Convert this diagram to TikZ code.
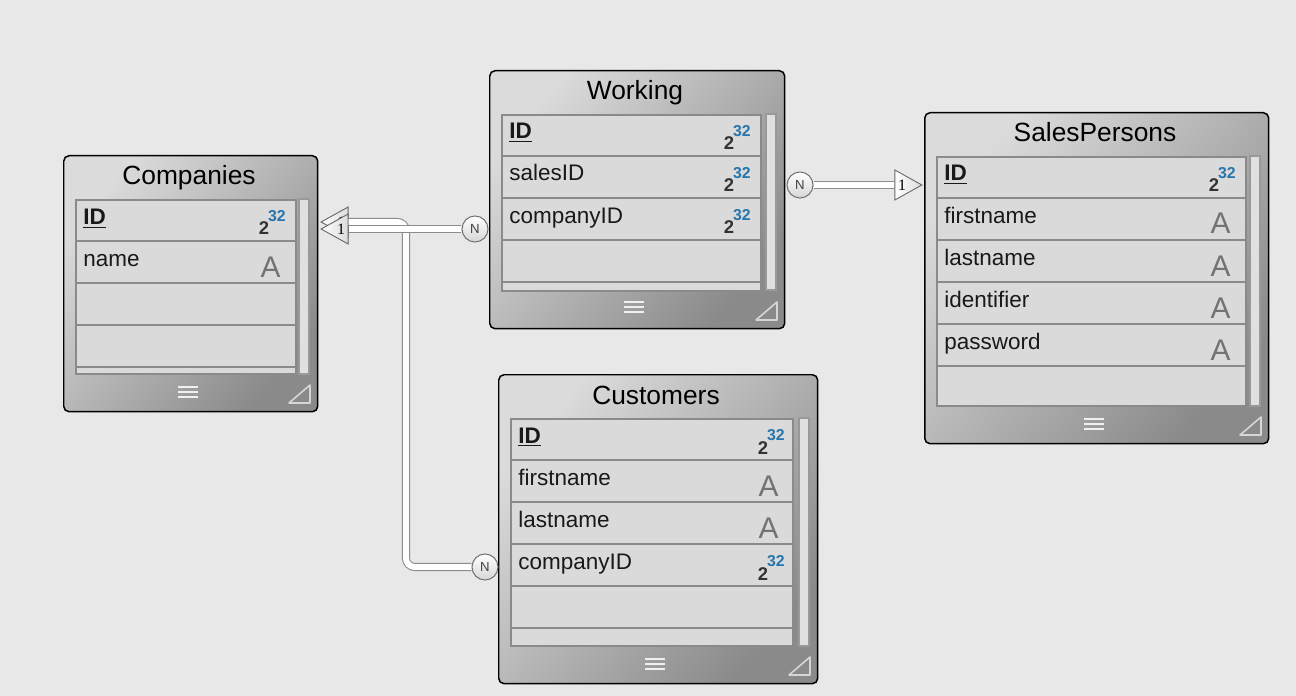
\documentclass[tikz,border=0pt]{standalone}
\usepackage{fontspec}
\setmainfont{Liberation Sans}
\newfontfamily\serifone{Liberation Serif}
\usetikzlibrary{shapes.geometric}

\definecolor{canvas}{RGB}{232,232,232}
\definecolor{rowfill}{RGB}{218,218,218}
\definecolor{rowline}{RGB}{138,138,138}
\definecolor{intblue}{RGB}{38,118,172}

\newcommand\intsym{{\fontsize{10.5}{11}\selectfont\bfseries\color{black!80}2}\kern-0.6pt\raisebox{7.6pt}{\fontsize{9}{9}\selectfont\bfseries\color{intblue}32}}

\tikzset{
  entity/.style={draw=black, line width=0.85pt, rounded corners=3pt, anchor=north west, inner sep=0pt,
    top color=black!14, bottom color=black!46, shading angle=50},
  entitytitle/.style={anchor=base, inner sep=0pt, font=\fontsize{15}{18}\selectfont},
  fields/.style={draw=rowline, line width=1.1pt, fill=rowfill, anchor=north west, inner sep=0pt},
  rowsep/.style={draw=rowline, line width=1.1pt},
  scrollbar/.style={fill=black!12, draw=black!40, line width=0.8pt},
  fieldname/.style={anchor=base west, inner sep=0pt, text=black!90, font=\fontsize{12.8}{15}\selectfont},
  keyname/.style={fieldname, font=\fontsize{12.8}{15}\selectfont\bfseries},
  inttype/.style={anchor=base east, inner sep=0pt},
  texttype/.style={anchor=base east, inner sep=0pt, text=black!55, font=\fontsize{17}{18}\selectfont},
  grip/.style={draw=black!6, line width=0.6pt},
  resizer/.style={draw=black!16, line width=0.9pt, line join=round},
  manyend/.style={circle, minimum size=0.52cm, inner sep=0pt, draw=black!55, line width=0.6pt,
    top color=white, bottom color=black!16, text=black!75, font=\fontsize{7.5}{8}\selectfont},
  oneend/.style={shape=isosceles triangle, isosceles triangle stretches, minimum width=0.6cm,
    minimum height=0.54cm, inner sep=0pt, anchor=apex, draw=black!60, line width=0.5pt,
    left color=white, right color=black!14, font=\serifone\fontsize{9}{9}\selectfont},
  relation/.style={draw=black!45, line width=0.6pt, double=white, double distance=3.4pt}
}

\begin{document}
\begin{tikzpicture}[x=0.02cm, y=-0.02cm]
  \useasboundingbox (0,0) rectangle (1296,696);
  \fill[canvas] (0,0) rectangle (1296,696);

  % Companies
  \node[entity, minimum width=5.08cm, minimum height=5.12cm] (companies) at (63,155) {};
  \node[entitytitle] (companies-title) at (189,185) {Companies};
  \node[fields, minimum width=4.4cm, minimum height=3.48cm] (companies-fields) at (75,199) {};
  \foreach \y in {241,283,325,367}
    \draw[rowsep] (75,\y) -- (295,\y);
  \draw[scrollbar] (299,199) rectangle (309,374);
  \node[keyname] (companies-id) at (83,225) {\underline{ID}};
  \node[fieldname] (companies-name) at (83,266) {name};
  \node[inttype] (companies-id-type) at (286,235) {\intsym};
  \node[texttype] (companies-name-type) at (281,277) {A};
  \foreach \d in {-5,0,5}
    \draw[grip] (178,392+\d) -- (198,392+\d);
  \draw[resizer] (289,403) -- (310,385) -- (310,403) -- cycle;

  % Working
  \node[entity, minimum width=5.9cm, minimum height=5.16cm] (working) at (489,70) {};
  \node[entitytitle] (working-title) at (635,100) {Working};
  \node[fields, minimum width=5.18cm, minimum height=3.52cm] (working-fields) at (501,114) {};
  \foreach \y in {156,198,240,282}
    \draw[rowsep] (501,\y) -- (760,\y);
  \draw[scrollbar] (766,114) rectangle (776,290);
  \node[keyname] (working-id) at (509,139) {\underline{ID}};
  \node[fieldname] (working-salesid) at (509,181) {salesID};
  \node[fieldname] (working-companyid) at (509,223) {companyID};
  \node[inttype] (working-id-type) at (751,150) {\intsym};
  \node[inttype] (working-salesid-type) at (751,192) {\intsym};
  \node[inttype] (working-companyid-type) at (751,234) {\intsym};
  \foreach \d in {-5,0,5}
    \draw[grip] (624,307+\d) -- (644,307+\d);
  \draw[resizer] (756,320) -- (777,302) -- (777,320) -- cycle;

  % SalesPersons
  \node[entity, minimum width=6.88cm, minimum height=6.62cm] (salespersons) at (924,112) {};
  \node[entitytitle] (salespersons-title) at (1095,142) {SalesPersons};
  \node[fields, minimum width=6.18cm, minimum height=4.98cm] (salespersons-fields) at (936,156) {};
  \foreach \y in {198,240,282,324,366}
    \draw[rowsep] (936,\y) -- (1245,\y);
  \draw[scrollbar] (1250,156) rectangle (1260,406);
  \node[keyname] (salespersons-id) at (944,181) {\underline{ID}};
  \node[fieldname] (salespersons-firstname) at (944,223) {firstname};
  \node[fieldname] (salespersons-lastname) at (944,265) {lastname};
  \node[fieldname] (salespersons-identifier) at (944,307) {identifier};
  \node[fieldname] (salespersons-password) at (944,349) {password};
  \node[inttype] (salespersons-id-type) at (1236,192) {\intsym};
  \node[texttype] (salespersons-firstname-type) at (1231,234) {A};
  \node[texttype] (salespersons-lastname-type) at (1231,276) {A};
  \node[texttype] (salespersons-identifier-type) at (1231,318) {A};
  \node[texttype] (salespersons-password-type) at (1231,360) {A};
  \foreach \d in {-5,0,5}
    \draw[grip] (1084,424+\d) -- (1104,424+\d);
  \draw[resizer] (1240,435) -- (1261,417) -- (1261,435) -- cycle;

  % Customers
  \node[entity, minimum width=6.38cm, minimum height=6.18cm] (customers) at (498,374) {};
  \node[entitytitle] (customers-title) at (656,404) {Customers};
  \node[fields, minimum width=5.64cm, minimum height=4.54cm] (customers-fields) at (510,418) {};
  \foreach \y in {460,502,544,586,628}
    \draw[rowsep] (510,\y) -- (792,\y);
  \draw[scrollbar] (799,418) rectangle (809,646);
  \node[keyname] (customers-id) at (518,443) {\underline{ID}};
  \node[fieldname] (customers-firstname) at (518,485) {firstname};
  \node[fieldname] (customers-lastname) at (518,527) {lastname};
  \node[fieldname] (customers-companyid) at (518,569) {companyID};
  \node[inttype] (customers-id-type) at (785,454) {\intsym};
  \node[texttype] (customers-firstname-type) at (779,496) {A};
  \node[texttype] (customers-lastname-type) at (779,538) {A};
  \node[inttype] (customers-companyid-type) at (785,580) {\intsym};
  \foreach \d in {-5,0,5}
    \draw[grip] (645,664+\d) -- (665,664+\d);
  \draw[resizer] (789,675) -- (810,657) -- (810,675) -- cycle;

  % relationship ends
  \node[manyend] (working-salesN) at (800,185) {N};
  \node[oneend] (salespersons-one) at (923,185) {1};
  \node[manyend] (working-compN) at (475,229) {N};
  \node[oneend, shape border rotate=180] (companies-oneB) at (320,222) {1};
  \node[oneend, shape border rotate=180] (companies-oneA) at (320,229) {1};
  \node[manyend] (customers-compN) at (485,567) {N};
  \coordinate (customers-bend) at (406,222);

  % relationships
  \draw[relation, rounded corners=5pt] (customers-compN) -| (customers-bend) -- (companies-oneB.lower side);
  \draw[relation] (working-compN) -- (companies-oneA.lower side);
  \draw[relation] (working-salesN) -- (salespersons-one.lower side);
\end{tikzpicture}
\end{document}
